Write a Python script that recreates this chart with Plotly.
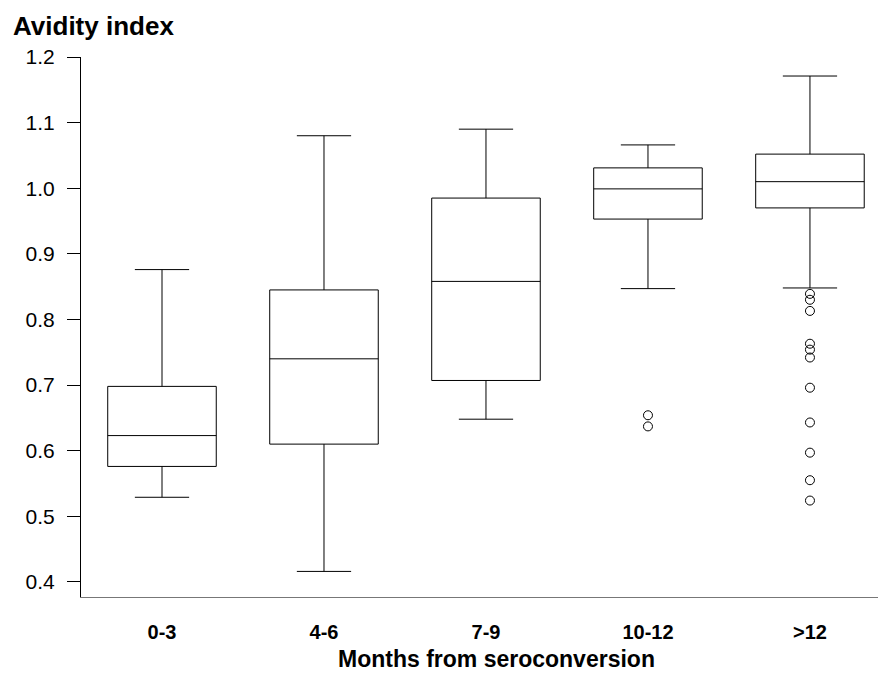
import plotly.graph_objects as go

categories = ['0-3', '4-6', '7-9', '10-12', '>12']
lower_whisker = [0.529, 0.416, 0.648, 0.847, 0.848]
q1_values = [0.576, 0.610, 0.707, 0.953, 0.970]
median_values = [0.623, 0.740, 0.858, 0.999, 1.010]
q3_values = [0.698, 0.845, 0.985, 1.031, 1.052]
upper_whisker = [0.876, 1.080, 1.090, 1.066, 1.171]

outlier_cats = ['10-12', '10-12'] + ['>12'] * 11
outlier_values = [0.654, 0.637,
                  0.839, 0.830, 0.813, 0.763, 0.754, 0.742, 0.696, 0.643, 0.597, 0.555, 0.524]

ytick_vals = [0.4, 0.5, 0.6, 0.7, 0.8, 0.9, 1.0, 1.1, 1.2]
ytick_text = ['0.4', '0.5', '0.6', '0.7', '0.8', '0.9', '1.0', '1.1', '1.2']

FONT = 'Liberation Sans, Arial, sans-serif'

fig = go.Figure()
fig.add_trace(go.Box(
    x=categories,
    q1=q1_values, median=median_values, q3=q3_values,
    lowerfence=lower_whisker, upperfence=upper_whisker,
    boxpoints=False,
    fillcolor='white',
    line=dict(color='black', width=1),
    width=0.67,
    whiskerwidth=0.5,
    showlegend=False,
    hoverinfo='skip',
))
fig.add_trace(go.Scatter(
    x=outlier_cats, y=outlier_values, mode='markers',
    marker=dict(symbol='circle-open', size=9, color='black', line=dict(width=1)),
    showlegend=False, hoverinfo='skip',
))

fig.update_layout(
    width=878, height=675,
    margin=dict(l=81, r=0, t=57, b=78),
    paper_bgcolor='white', plot_bgcolor='white',
    font=dict(family=FONT, color='black'),
    xaxis=dict(
        type='category', categoryorder='array', categoryarray=categories,
        range=[-0.5, 4.42],
        showline=True, linecolor='#777777', linewidth=1,
        ticks='', showgrid=False, zeroline=False,
        tickfont=dict(family=FONT, size=20, color='black', weight='bold'),
        ticklabelstandoff=17,
    ),
    yaxis=dict(
        range=[0.377, 1.2],
        tickvals=ytick_vals, ticktext=ytick_text,
        showline=True, linecolor='black', linewidth=1,
        ticks='outside', ticklen=13, tickcolor='black', tickwidth=1,
        showgrid=False, zeroline=False,
        tickfont=dict(family=FONT, size=21, color='black'),
        ticklabelstandoff=8,
    ),
    annotations=[
        dict(text='<b>Avidity index</b>', xref='paper', yref='paper',
             x=(11 - 81) / 797, y=1 + (57 - 26) / 540,
             xanchor='left', yanchor='middle', showarrow=False,
             font=dict(family=FONT, size=26, color='black')),
        dict(text='<b>Months from seroconversion</b>', xref='paper', yref='paper',
             x=(496 - 81) / 797, y=-(659 - 597) / 540,
             xanchor='center', yanchor='middle', showarrow=False,
             font=dict(family=FONT, size=23, color='black')),
    ],
)

fig.write_html('out.html', config={'displayModeBar': False},
               post_script="document.body.style.margin='0';document.body.style.overflow='hidden';")
